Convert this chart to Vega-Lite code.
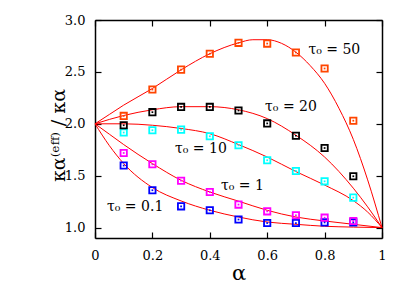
{
  "$schema": "https://vega.github.io/schema/vega-lite/v6.json",
  "width": 287,
  "height": 218,
  "autosize": "none",
  "padding": {"left": 95, "top": 20, "right": 27, "bottom": 48},
  "background": "white",
  "config": {
    "view": {"stroke": null},
    "axis": {
      "grid": false,
      "domainColor": "black",
      "domainWidth": 1.5,
      "tickColor": "black",
      "tickWidth": 1.2,
      "tickSize": -6,
      "labelFont": "DejaVu Serif",
      "labelFontSize": 13,
      "labelColor": "black",
      "titleFont": "DejaVu Serif",
      "titleColor": "black",
      "titleFontWeight": "normal"
    }
  },
  "datasets": {
    "curves": [
      {"tau": "50", "a": 0, "v": 2.0}, {"tau": "50", "a": 0.05, "v": 2.09}, {"tau": "50", "a": 0.1, "v": 2.18}, {"tau": "50", "a": 0.2, "v": 2.34}, {"tau": "50", "a": 0.3, "v": 2.52}, {"tau": "50", "a": 0.4, "v": 2.675}, {"tau": "50", "a": 0.5, "v": 2.78}, {"tau": "50", "a": 0.55, "v": 2.81}, {"tau": "50", "a": 0.6, "v": 2.81}, {"tau": "50", "a": 0.65, "v": 2.775}, {"tau": "50", "a": 0.7, "v": 2.69}, {"tau": "50", "a": 0.75, "v": 2.56}, {"tau": "50", "a": 0.8, "v": 2.39}, {"tau": "50", "a": 0.85, "v": 2.15}, {"tau": "50", "a": 0.9, "v": 1.85}, {"tau": "50", "a": 0.95, "v": 1.46}, {"tau": "50", "a": 1.0, "v": 1.0},
      {"tau": "20", "a": 0, "v": 2.0}, {"tau": "20", "a": 0.1, "v": 2.08}, {"tau": "20", "a": 0.2, "v": 2.135}, {"tau": "20", "a": 0.3, "v": 2.165}, {"tau": "20", "a": 0.4, "v": 2.165}, {"tau": "20", "a": 0.5, "v": 2.135}, {"tau": "20", "a": 0.6, "v": 2.05}, {"tau": "20", "a": 0.7, "v": 1.89}, {"tau": "20", "a": 0.8, "v": 1.68}, {"tau": "20", "a": 0.9, "v": 1.38}, {"tau": "20", "a": 0.95, "v": 1.2}, {"tau": "20", "a": 1.0, "v": 1.0},
      {"tau": "10", "a": 0, "v": 2.0}, {"tau": "10", "a": 0.1, "v": 2.0}, {"tau": "10", "a": 0.2, "v": 1.986}, {"tau": "10", "a": 0.3, "v": 1.955}, {"tau": "10", "a": 0.4, "v": 1.905}, {"tau": "10", "a": 0.5, "v": 1.80}, {"tau": "10", "a": 0.6, "v": 1.68}, {"tau": "10", "a": 0.7, "v": 1.54}, {"tau": "10", "a": 0.8, "v": 1.41}, {"tau": "10", "a": 0.9, "v": 1.26}, {"tau": "10", "a": 0.95, "v": 1.15}, {"tau": "10", "a": 1.0, "v": 1.0},
      {"tau": "1", "a": 0, "v": 2.0}, {"tau": "1", "a": 0.05, "v": 1.9}, {"tau": "1", "a": 0.1, "v": 1.8}, {"tau": "1", "a": 0.2, "v": 1.617}, {"tau": "1", "a": 0.3, "v": 1.456}, {"tau": "1", "a": 0.4, "v": 1.343}, {"tau": "1", "a": 0.5, "v": 1.255}, {"tau": "1", "a": 0.6, "v": 1.167}, {"tau": "1", "a": 0.7, "v": 1.102}, {"tau": "1", "a": 0.8, "v": 1.064}, {"tau": "1", "a": 0.9, "v": 1.032}, {"tau": "1", "a": 1.0, "v": 1.0},
      {"tau": "0.1", "a": 0, "v": 2.0}, {"tau": "0.1", "a": 0.05, "v": 1.79}, {"tau": "0.1", "a": 0.1, "v": 1.617}, {"tau": "0.1", "a": 0.2, "v": 1.386}, {"tau": "0.1", "a": 0.3, "v": 1.257}, {"tau": "0.1", "a": 0.4, "v": 1.167}, {"tau": "0.1", "a": 0.5, "v": 1.102}, {"tau": "0.1", "a": 0.6, "v": 1.054}, {"tau": "0.1", "a": 0.7, "v": 1.032}, {"tau": "0.1", "a": 0.8, "v": 1.013}, {"tau": "0.1", "a": 0.9, "v": 1.005}, {"tau": "0.1", "a": 1.0, "v": 1.0}
    ],
    "points": [
      {"tau": "0.1", "a": 0.1, "v": 1.598}, {"tau": "0.1", "a": 0.2, "v": 1.36}, {"tau": "0.1", "a": 0.3, "v": 1.205}, {"tau": "0.1", "a": 0.4, "v": 1.167}, {"tau": "0.1", "a": 0.5, "v": 1.078}, {"tau": "0.1", "a": 0.6, "v": 1.044}, {"tau": "0.1", "a": 0.7, "v": 1.044}, {"tau": "0.1", "a": 0.8, "v": 1.05}, {"tau": "0.1", "a": 0.9, "v": 1.05},
      {"tau": "1", "a": 0.1, "v": 1.719}, {"tau": "1", "a": 0.2, "v": 1.61}, {"tau": "1", "a": 0.3, "v": 1.452}, {"tau": "1", "a": 0.4, "v": 1.343}, {"tau": "1", "a": 0.5, "v": 1.222}, {"tau": "1", "a": 0.6, "v": 1.157}, {"tau": "1", "a": 0.7, "v": 1.119}, {"tau": "1", "a": 0.8, "v": 1.096}, {"tau": "1", "a": 0.9, "v": 1.064},
      {"tau": "10", "a": 0.1, "v": 1.916}, {"tau": "10", "a": 0.2, "v": 1.938}, {"tau": "10", "a": 0.3, "v": 1.944}, {"tau": "10", "a": 0.4, "v": 1.88}, {"tau": "10", "a": 0.5, "v": 1.793}, {"tau": "10", "a": 0.6, "v": 1.649}, {"tau": "10", "a": 0.7, "v": 1.546}, {"tau": "10", "a": 0.8, "v": 1.446}, {"tau": "10", "a": 0.9, "v": 1.289},
      {"tau": "20", "a": 0.1, "v": 1.986}, {"tau": "20", "a": 0.2, "v": 2.112}, {"tau": "20", "a": 0.3, "v": 2.163}, {"tau": "20", "a": 0.4, "v": 2.163}, {"tau": "20", "a": 0.5, "v": 2.128}, {"tau": "20", "a": 0.6, "v": 2.004}, {"tau": "20", "a": 0.7, "v": 1.885}, {"tau": "20", "a": 0.8, "v": 1.767}, {"tau": "20", "a": 0.9, "v": 1.495},
      {"tau": "50", "a": 0.1, "v": 2.076}, {"tau": "50", "a": 0.2, "v": 2.33}, {"tau": "50", "a": 0.3, "v": 2.522}, {"tau": "50", "a": 0.4, "v": 2.675}, {"tau": "50", "a": 0.5, "v": 2.78}, {"tau": "50", "a": 0.6, "v": 2.773}, {"tau": "50", "a": 0.7, "v": 2.687}, {"tau": "50", "a": 0.8, "v": 2.533}, {"tau": "50", "a": 0.9, "v": 2.03}
    ],
    "labels": [
      {"a": 0.834, "v": 2.71, "text": "τ₀ = 50"},
      {"a": 0.683, "v": 2.16, "text": "τ₀ = 20"},
      {"a": 0.369, "v": 1.76, "text": "τ₀ = 10"},
      {"a": 0.514, "v": 1.405, "text": "τ₀ = 1"},
      {"a": 0.14, "v": 1.197, "text": "τ₀ = 0.1"}
    ]
  },
  "resolve": {"axis": {"x": "independent", "y": "independent"}},
  "layer": [
    {
      "data": {"name": "curves"},
      "mark": {"type": "line", "color": "#ff0000", "strokeWidth": 1, "interpolate": "monotone"},
      "encoding": {
        "x": {"field": "a", "type": "quantitative", "scale": {"domain": [0, 1], "nice": false, "zero": false},
              "axis": {"orient": "bottom", "values": [0, 0.2, 0.4, 0.6, 0.8, 1], "format": ".1~f", "labelPadding": 17.5, "title": "α", "titleFontSize": 21, "titlePadding": 0, "labelFlush": false}},
        "y": {"field": "v", "type": "quantitative", "scale": {"domain": [0.9, 3.0], "nice": false, "zero": false},
              "axis": {"orient": "left", "values": [1, 1.5, 2, 2.5, 3], "format": ".1f", "labelPadding": 16, "title": "κα⁽ᵉᶠᶠ⁾ / κα", "titleFontSize": 19, "titlePadding": -4, "titleY": 115}},
        "detail": {"field": "tau"}
      }
    },
    {
      "mark": {"type": "rule", "color": "black", "strokeWidth": 1.2, "strokeDash": [3, 3]},
      "encoding": {"y": {"datum": 1, "type": "quantitative", "axis": null}}
    },
    {
      "data": {"name": "points"},
      "mark": {"type": "point", "shape": "square", "filled": false, "size": 40, "strokeWidth": 1.8, "opacity": 1},
      "encoding": {
        "x": {"field": "a", "type": "quantitative", "axis": {"orient": "top", "values": [0, 0.2, 0.4, 0.6, 0.8, 1], "labels": false, "title": null}},
        "y": {"field": "v", "type": "quantitative", "axis": {"orient": "right", "values": [1, 1.5, 2, 2.5, 3], "labels": false, "title": null}},
        "color": {"field": "tau", "type": "nominal", "legend": null,
                  "scale": {"domain": ["0.1", "1", "10", "20", "50"], "range": ["#0000ff", "#ff00ff", "#00ffff", "#000000", "#ff4500"]}}
      }
    },
    {
      "data": {"name": "points"},
      "mark": {"type": "point", "shape": "square", "filled": true, "size": 3, "opacity": 1},
      "encoding": {
        "x": {"field": "a", "type": "quantitative", "axis": null},
        "y": {"field": "v", "type": "quantitative", "axis": null},
        "color": {"field": "tau", "type": "nominal", "legend": null}
      }
    },
    {
      "data": {"name": "labels"},
      "mark": {"type": "text", "font": "DejaVu Serif", "fontSize": 14, "color": "black", "align": "center", "baseline": "middle"},
      "encoding": {
        "x": {"field": "a", "type": "quantitative", "axis": null},
        "y": {"field": "v", "type": "quantitative", "axis": null},
        "text": {"field": "text"}
      }
    }
  ]
}
